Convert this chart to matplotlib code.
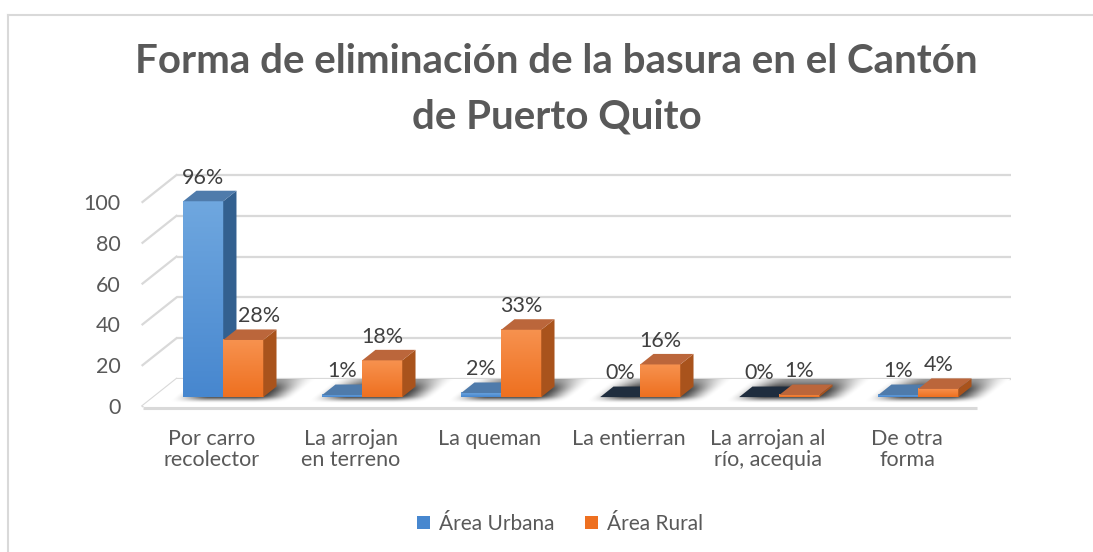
import matplotlib
matplotlib.use("Agg")
import matplotlib.pyplot as plt
from matplotlib.patches import Polygon, Patch
from matplotlib.lines import Line2D
import numpy as np

plt.rcParams['font.family'] = ['Lato', 'DejaVu Sans']

categorias = ["Por carro\nrecolector", "La arrojan\nen terreno", "La queman",
              "La entierran", "La arrojan al\nrío, acequia", "De otra\nforma"]
urbana = [96, 1, 2, 0, 0, 1]
rural = [28, 18, 33, 16, 1, 4]
series = ["Área Urbana", "Área Rural"]
yticks = [0, 20, 40, 60, 80, 100]

# layout in pixels
W, H = 1093, 552
PX_LEFT, PX_CAT = 142.5, 139.0
Y0_PX, PX_UNIT = 406.0, 2.04
DX_PX, DY_PX = 34.0, 27.0
YMIN, YMAX = -5, 115

TXT = "#595959"
GRID = "#d9d9d9"
FS = 15.5

fig = plt.figure(figsize=(W / 100, H / 100), dpi=100)
ax_top = Y0_PX - YMAX * PX_UNIT
ax_bot = Y0_PX - YMIN * PX_UNIT
ax = fig.add_axes([PX_LEFT / W, 1 - ax_bot / H, 6 * PX_CAT / W, (ax_bot - ax_top) / H])
ax.set_xlim(-0.5, 5.5)
ax.set_ylim(YMIN, YMAX)
for s in ax.spines.values():
    s.set_visible(False)
ax.patch.set_visible(False)

# depth vector in data units
dxd = DX_PX / PX_CAT
dyd = DY_PX / PX_UNIT

# back wall and side wall grid
for v in yticks:
    ax.plot([-0.5 + dxd, 5.5 + dxd], [v + dyd, v + dyd], color=GRID, lw=1.6, zorder=1,
            solid_capstyle='butt', clip_on=False)
    ax.plot([-0.5, -0.5 + dxd], [v, v + dyd], color=GRID, lw=1.6, zorder=1, clip_on=False)

# floor
floor = [(-0.5, 0), (5.5, 0), (5.5 + dxd, dyd), (-0.5 + dxd, dyd)]
ax.add_patch(Polygon(floor, closed=True, facecolor="white", edgecolor="none", zorder=2,
                     clip_on=False))
ax.plot([-0.5, 5.5], [-1, -1], color=GRID, lw=2.2, zorder=2, solid_capstyle='butt',
        clip_on=False)


def smooth(t):
    t = np.clip(t, 0, 1)
    return t * t * (3 - 2 * t)


# soft shadows on the floor
nx, ny = 1400, 80
xs = np.linspace(-0.5, 5.5 + dxd, nx)
ys = np.linspace(0, dyd, ny)
X, Y = np.meshgrid(xs, ys)
Z = Y / dyd
X0 = X - Z * dxd
alpha = np.zeros_like(X)
for i in range(len(categorias)):
    cx, half, soft = i + 0.07, 0.30, 0.14
    fx = smooth((half + soft - np.abs(X0 - cx)) / (2 * soft))
    alpha = np.maximum(alpha, fx)
fz = smooth((Z - 0.1) / 0.3) * (1 - 0.5 * smooth((Z - 0.55) / 0.45))
alpha = alpha * fz * 0.8
alpha[(X0 < -0.5) | (X0 > 5.5)] = 0
img = np.zeros((ny, nx, 4))
img[..., 3] = alpha
shadow = ax.imshow(img, extent=(xs[0], xs[-1], 0, dyd), origin='lower', aspect='auto',
                   interpolation='bilinear', zorder=3)
shadow.set_clip_on(False)

BW = 0.288
Z0, Z1 = 0.33, 0.72
estilos = [
    dict(top_c="#6fa7df", bot_c="#4787cf", side="#33608f", cap="#4f7bab", zero="#1f2d3e"),
    dict(top_c="#f7924f", bot_c="#ee7020", side="#a9531c", cap="#bb663b", zero="#bb663b"),
]
nudge = {(0, 1): 11.5}


def barra(x_left, v, st, z):
    ox0, oy0 = Z0 * dxd, Z0 * dyd
    ox1, oy1 = Z1 * dxd, Z1 * dyd
    xl = x_left + ox0
    xr = x_left + BW + ox0
    if v > 0:
        grad = np.linspace(0, 1, 64)[:, None, None]
        c1 = np.array(matplotlib.colors.to_rgb(st["bot_c"]))
        c2 = np.array(matplotlib.colors.to_rgb(st["top_c"]))
        g = c1 * (1 - grad) + c2 * grad
        g = np.repeat(g, 2, axis=1)
        ax.imshow(g, extent=(xl, xr, oy0, oy0 + v), origin='lower', aspect='auto',
                  interpolation='bilinear', zorder=z)
        side = [(xr, oy0), (xr + ox1 - ox0, oy1), (xr + ox1 - ox0, oy1 + v), (xr, oy0 + v)]
        ax.add_patch(Polygon(side, closed=True, facecolor=st["side"], edgecolor="none", zorder=z))
    cap = [(xl, oy0 + v), (xr, oy0 + v), (xr + ox1 - ox0, oy1 + v), (xl + ox1 - ox0, oy1 + v)]
    ax.add_patch(Polygon(cap, closed=True, facecolor=st["cap"] if v > 0 else st["zero"],
                         edgecolor="none", zorder=z, clip_on=False))
    return (xl + xr) / 2, oy0 + v


for i in range(len(categorias)):
    for j, vals in enumerate([urbana, rural]):
        v = vals[i]
        xc, ytop = barra(i - BW + j * BW, v, estilos[j], 4 + 2 * i + j * 0.5)
        ax.annotate(f"{v}%", xy=(xc, ytop), xytext=(nudge.get((i, j), 0), 17),
                    textcoords='offset points', ha='center', va='center',
                    fontsize=FS, color="#404040", zorder=20, annotation_clip=False)

ax.set_yticks(yticks)
ax.set_yticklabels([str(t) for t in yticks])
ax.set_xticks(range(len(categorias)))
ax.set_xticklabels(categorias, linespacing=1.1)
ax.tick_params(axis='y', length=0, pad=16, labelsize=FS, labelcolor=TXT)
ax.tick_params(axis='x', length=0, pad=9, labelsize=FS, labelcolor=TXT)

# title
fig.text(556.5 / W, 1 - 73 / H, "Forma de eliminación de la basura en el Cantón",
         ha='center', va='baseline', fontsize=29, fontweight='bold', color=TXT)
fig.text(556.5 / W, 1 - 128 / H, "de Puerto Quito",
         ha='center', va='baseline', fontsize=29, fontweight='bold', color=TXT)

# legend
handles = [Patch(facecolor=estilos[0]["bot_c"]), Patch(facecolor=estilos[1]["bot_c"])]
fig.legend(handles, series, loc='center', bbox_to_anchor=(560 / W, 1 - 524 / H),
           ncol=2, frameon=False, fontsize=15, labelcolor=TXT,
           handlelength=0.62, handleheight=0.62, handletextpad=0.4, columnspacing=1.5)

# chart border
fig.add_artist(Line2D([8 / W, 1], [1 - 15 / H, 1 - 15 / H], color=GRID, lw=1.5,
                      transform=fig.transFigure))
fig.add_artist(Line2D([8 / W, 8 / W], [0, 1 - 15 / H], color=GRID, lw=1.5,
                      transform=fig.transFigure))

fig.savefig("out.png", dpi=100)
